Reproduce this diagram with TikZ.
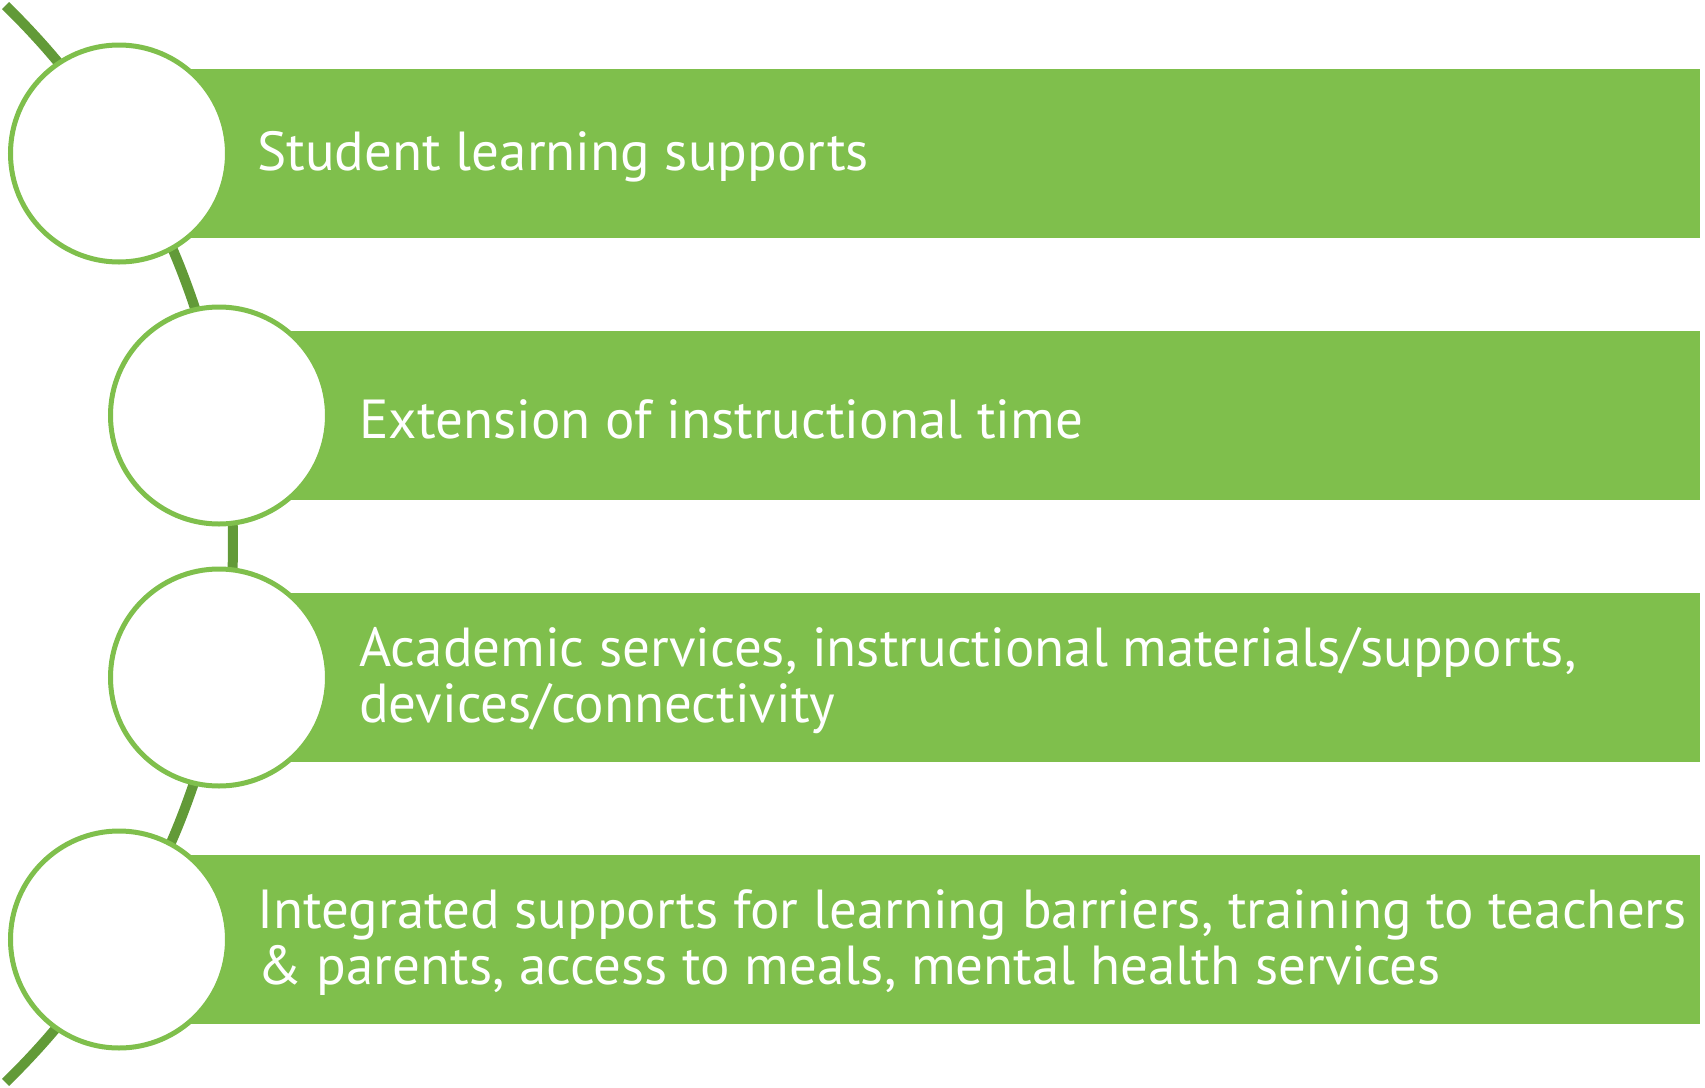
\documentclass[tikz,border=0pt]{standalone}
\usepackage{fontspec}
\setmainfont{PT Sans}
\definecolor{barGreen}{RGB}{127,191,76}
\definecolor{spineGreen}{RGB}{98,154,56}
\begin{document}
\begin{tikzpicture}[x=0.5pt,y=-0.5pt,
  bar/.style={fill=barGreen,draw=none},
  disc/.style={circle,draw=barGreen,fill=white,line width=2.5pt,minimum size=108.5pt,inner sep=0pt},
  label/.style={anchor=west,inner sep=0pt,align=left,text=white,font=\fontsize{27.5}{28}\selectfont}]
\useasboundingbox (0,0) rectangle (1705,1088);
% curved spine behind the circles
\draw[spineGreen,line width=5pt]
  plot[domain=-45.8:45.8,samples=120,smooth] ({-518+751*cos(\x)},{544+751*sin(\x)});
% bars
\foreach \cx/\cy in {119/153.5,219/415.5,219/677.5,119/939.5}
  \fill[barGreen] (\cx,\cy-84.5) rectangle (1700,\cy+84.5);
% circles
\node[disc] (c1) at (119,153.5) {};
\node[disc] (c2) at (219,415.5) {};
\node[disc] (c3) at (219,677.5) {};
\node[disc] (c4) at (119,939.5) {};
% labels
\node[label] (t1) at (257,157) {Student learning supports};
\node[label] (t2) at (359,419) {Extension of instructional time};
\node[label] (t3) at (359,681) {Academic services, instructional materials/supports,\\devices/connectivity};
\node[label] (t4) at (257,943) {Integrated supports for learning barriers, training to teachers\\\& parents, access to meals, mental health services};
\end{tikzpicture}
\end{document}
